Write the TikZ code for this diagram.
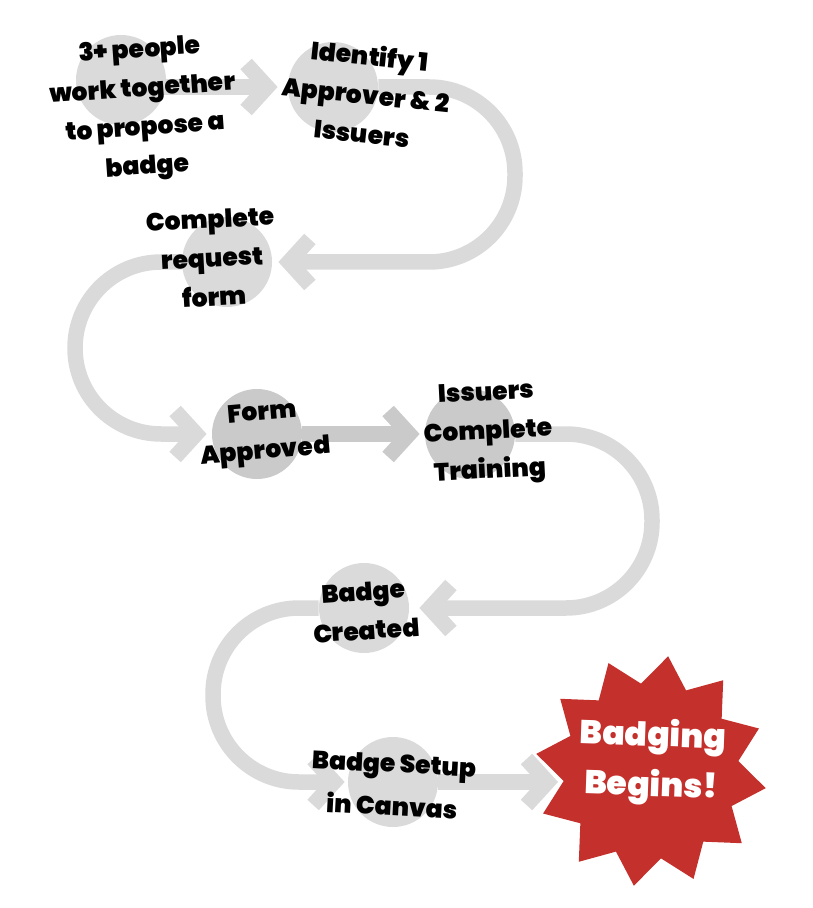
\documentclass[tikz,border=0pt]{standalone}
\usepackage{fontspec}
\setmainfont{Poppins}[BoldFont={Poppins Black}]
\usetikzlibrary{arrows.meta,shapes.geometric,backgrounds}
\definecolor{pathgray}{HTML}{D9DAD9}
\definecolor{stepgray}{HTML}{C9CAC9}
\definecolor{burstred}{HTML}{C4302B}
\tikzset{
  chevron/.tip={Straight Barb[length=10.5pt,width=23pt,sharp]},
  band/.style={line width=7.75pt, pathgray, -{chevron}},
  loop/.style={band, rounded corners=43pt},
  stepdot/.style={circle, fill=pathgray, minimum size=45pt, inner sep=0pt},
  steptext/.style={align=center, inner sep=0pt,
    font=\bfseries\fontsize{12.5}{19.5}\selectfont},
}
\begin{document}
\begin{tikzpicture}[x=0.5pt, y=-0.5pt]
  \useasboundingbox (0,0) rectangle (812,908);
  % steps
  \node[stepdot] (c1) at (121,80) {};
  \node[stepdot] (c2) at (333,87) {};
  \node[stepdot] (c3) at (227,262) {};
  \node[stepdot, fill=stepgray] (c4) at (257,434) {};
  \node[stepdot, fill=stepgray] (c5) at (470,434) {};
  \node[stepdot] (c6) at (364,608) {};
  \node[stepdot] (c7) at (393,782) {};
  \node[star, star points=12, star point ratio=1.32, minimum size=116pt,
    inner sep=0pt, fill=burstred, rotate=-8.5] (burst) at (651,771) {};
  % turns of the path
  \coordinate (ne1) at (515,87);
  \coordinate (se1) at (515,262);
  \coordinate (nw1) at (75,262);
  \coordinate (sw1) at (75,434);
  \coordinate (ne2) at (652,434);
  \coordinate (se2) at (652,608);
  \coordinate (nw2) at (213,608);
  \coordinate (sw2) at (213,782);
  \coordinate (goal) at (558,782);
  \begin{pgfonlayer}{background}
    \draw[band, shorten >=5pt] (c1.center |- c2.center) -- (c2);
    \draw[loop] (c2) -- (ne1) -- (se1) -- ([xshift=3pt]c3.east);
    \draw[loop] (c3) -- (nw1) -- (sw1) -- ([xshift=-2.5pt]c4.west);
    \draw[band, stepgray] (c4) -- ([xshift=-2.5pt]c5.west);
    \draw[loop] (c5) -- (ne2) -- (se2) -- ([xshift=5pt]c6.east);
    \draw[loop] (c6) -- (nw2) -- (sw2) -- ([xshift=-1.5pt]c7.west);
    \draw[band] (c7) -- (goal);
  \end{pgfonlayer}
  % labels
  \node[steptext, rotate=4] (t1) at (144,110) {3+ people\\work together\\to propose a\\badge};
  \node[steptext, rotate=-6] (t2) at (366,94) {Identify 1\\Approver \& 2\\Issuers};
  \node[steptext, rotate=3] (t3) at (212,258) {Complete\\request\\form};
  \node[steptext, rotate=5] (t4) at (264,434) {Form\\Approved};
  \node[steptext, rotate=3] (t5) at (488,434) {Issuers\\Complete\\Training};
  \node[steptext, rotate=4] (t6) at (365,611) {Badge\\Created};
  \node[steptext, rotate=-3, font=\bfseries\fontsize{12.5}{21.5}\selectfont] (t7) at (393,785) {Badge Setup\\in Canvas};
  \node[steptext, rotate=-2, white, font=\bfseries\fontsize{16.5}{25}\selectfont] (t8) at (652,762) {Badging\\Begins!};
\end{tikzpicture}
\end{document}
